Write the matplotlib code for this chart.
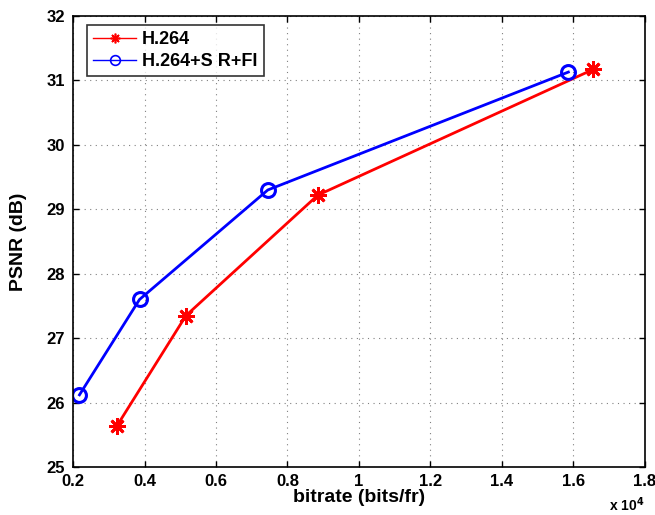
import matplotlib
matplotlib.use("Agg")
import matplotlib.pyplot as plt

plt.rcParams['font.family'] = ['Liberation Sans', 'DejaVu Sans']
plt.rcParams['font.weight'] = 'bold'

h264_x = [0.323, 0.516, 0.885, 1.655]
h264_y = [25.64, 27.35, 29.22, 31.17]
srfi_x = [0.218, 0.386, 0.745, 1.586]
srfi_y = [26.12, 27.60, 29.30, 31.13]
xticks = [0.2, 0.4, 0.6, 0.8, 1.0, 1.2, 1.4, 1.6, 1.8]
xticklabels = ['0.2', '0.4', '0.6', '0.8', '1', '1.2', '1.4', '1.6', '1.8']
yticks = [25, 26, 27, 28, 29, 30, 31, 32]

fig = plt.figure(figsize=(6.55, 5.15), dpi=100)
ax = fig.add_axes([0.1115, 0.0932, 0.873, 0.8757])

ax.plot(h264_x, h264_y, color='#ff0000', lw=2, marker=(8, 2, 0), ms=12,
        markeredgewidth=2, label='H.264')
ax.plot(srfi_x, srfi_y, color='#0000ff', lw=2, marker='o', ms=10,
        markerfacecolor='none', markeredgewidth=2.2, label='H.264+S R+FI')

ax.set_xlim(0.2, 1.8)
ax.set_ylim(25, 32)
ax.set_xticks(xticks)
ax.set_xticklabels(xticklabels)
ax.set_yticks(yticks)
ax.tick_params(direction='in', top=True, right=True, labelsize=12, width=1, length=4)
ax.tick_params(axis='x', pad=5)
ax.tick_params(axis='y', pad=6)
for lab in ax.get_xticklabels() + ax.get_yticklabels():
    lab.set_fontweight('bold')
ax.grid(True, linestyle=(0, (1, 4)), color='#808080', lw=0.8)
for s in ax.spines.values():
    s.set_linewidth(1.2)

ax.set_xlabel('bitrate (bits/fr)', fontsize=14, fontweight='bold', labelpad=0)
ax.set_ylabel('PSNR (dB)', fontsize=14, fontweight='bold', labelpad=14)

ax.text(1.0, -0.063, r'x 10$^{4}$', transform=ax.transAxes, ha='right', va='top',
        fontsize=10, fontweight='bold')

leg = ax.legend(loc='upper left', bbox_to_anchor=(0.024, 0.98), frameon=True, fancybox=False,
                edgecolor='black', borderaxespad=0.0, handlelength=2.4, handletextpad=0.3,
                prop={'weight': 'bold', 'size': 13}, borderpad=0.35, labelspacing=0.25)
leg.get_frame().set_linewidth(1.2)
for line in leg.get_lines():
    line.set_linewidth(1)
    line.set_markersize(7)
    line.set_markeredgewidth(1.2)

fig.savefig('out.png', dpi=100)
